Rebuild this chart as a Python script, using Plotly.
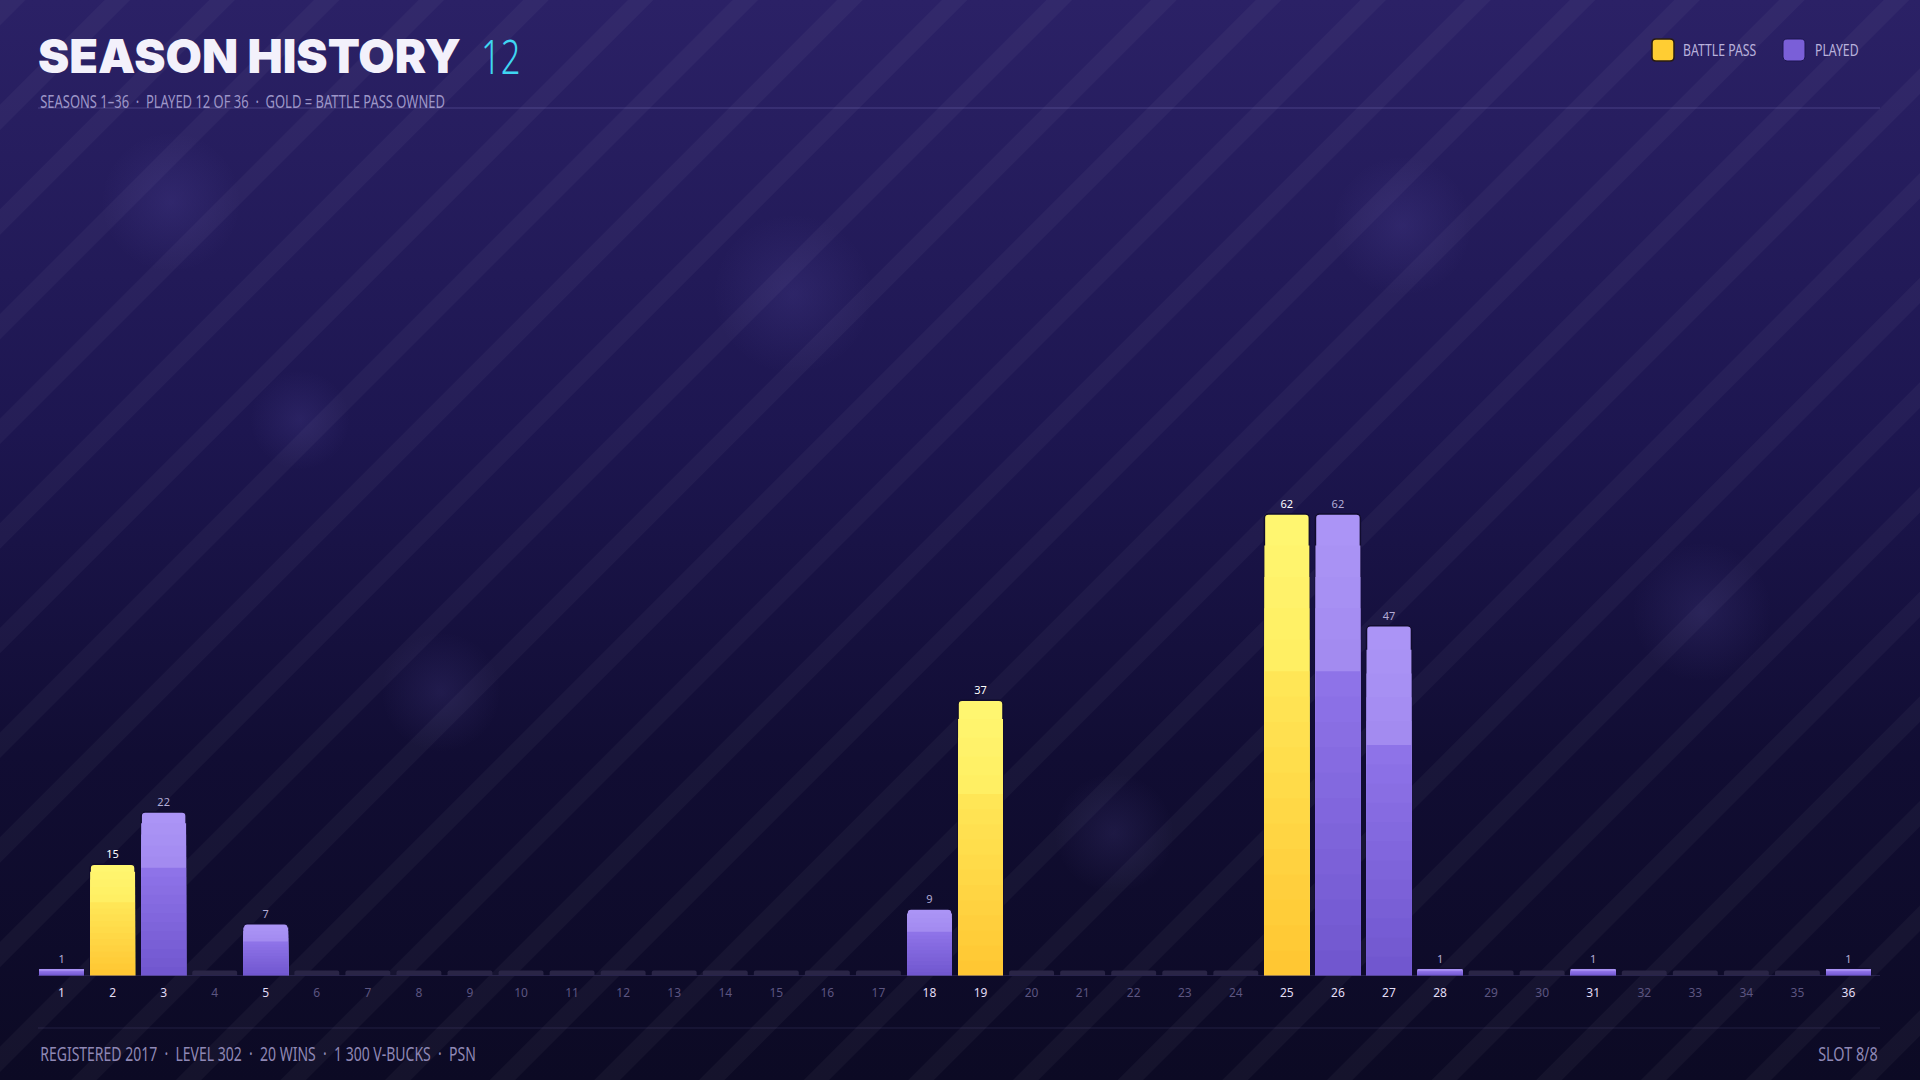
import base64
import plotly.graph_objects as go

# ---------------- data ----------------
SEASONS = list(range(1, 37))
VALUES = [1, 15, 22, 0, 7, 0, 0, 0, 0, 0, 0, 0, 0, 0, 0, 0, 0, 9, 37, 0,
          0, 0, 0, 0, 62, 62, 47, 1, 0, 0, 1, 0, 0, 0, 0, 1]
BATTLE_PASS = [2, 19, 25]
TITLE = "SEASON HISTORY"
TITLE_COUNT = "12"
SUBTITLE = "SEASONS 1–36  ·  PLAYED 12 OF 36  ·  GOLD = BATTLE PASS OWNED"
FOOTER_LEFT = "REGISTERED 2017  ·  LEVEL 302  ·  20 WINS  ·  1 300 V-BUCKS  ·  PSN"
FOOTER_RIGHT = "SLOT 8/8"
LEGEND_LABELS = ["BATTLE PASS", "PLAYED"]

# ---------------- style ----------------
W, H = 1920, 1080
COND = "'Noto Sans', 'DejaVu Sans Condensed', sans-serif"
HEAVY = "'Noto Sans Black', Inter, Lato, sans-serif"


def px(x):
    return x / W


def py(y):
    return 1 - y / H


def mix(c1, c2, t):
    a = [int(c1[i:i + 2], 16) for i in (1, 3, 5)]
    b = [int(c2[i:i + 2], 16) for i in (1, 3, 5)]
    return "#" + "".join(f"{round(x + (y - x) * t):02x}" for x, y in zip(a, b))


def rrect(x0, y0, x1, y1, r):
    """rounded rectangle path in paper coords from pixel box"""
    X = lambda v: f"{px(v):.6f}"
    Y = lambda v: f"{py(v):.6f}"
    return (f"M {X(x0 + r)} {Y(y0)} L {X(x1 - r)} {Y(y0)} Q {X(x1)} {Y(y0)} {X(x1)} {Y(y0 + r)} "
            f"L {X(x1)} {Y(y1 - r)} Q {X(x1)} {Y(y1)} {X(x1 - r)} {Y(y1)} "
            f"L {X(x0 + r)} {Y(y1)} Q {X(x0)} {Y(y1)} {X(x0)} {Y(y1 - r)} "
            f"L {X(x0)} {Y(y0 + r)} Q {X(x0)} {Y(y0)} {X(x0 + r)} {Y(y0)} Z")


played = [v > 0 for v in VALUES]
is_bp = [s in BATTLE_PASS for s in SEASONS]

# layered tones: fraction of bar height from base -> (bp colour, played colour)
LAYERS = []
N_UP = 5
for k in range(N_UP):                   # upper lighter band
    t = k / (N_UP - 1)
    LAYERS.append((1.0 - 0.34 * k / N_UP,
                   mix("#fff670", "#ffef63", t), mix("#ab94f6", "#a38bf0", t)))
N_LOW = 12
for k in range(N_LOW):                  # lower band, smooth gradient
    t = k / (N_LOW - 1)
    LAYERS.append((0.66 * (1 - k / N_LOW),
                   mix("#ffe656", "#ffc733", t), mix("#8e73e8", "#7157cf", t)))

STUB_H = 0.75
stub_vals = [0 if p else STUB_H for p in played]

text_vals = [str(v) if v > 0 else "" for v in VALUES]
text_cols = ["#ffffff" if b else "#b3acd6" for b in is_bp]

ticktext = [
    f"<span style='color:{'#e2ddf5' if p else '#5c5580'}'>{s}</span>"
    for s, p in zip(SEASONS, played)
]

# background (gradient + diagonal stripes + soft bokeh)
bokeh = [(171, 202, 70), (793, 294, 80), (1402, 226, 70), (1702, 612, 70),
         (1114, 833, 60), (441, 692, 60), (300, 420, 50)]
circles = "".join(
    f'<circle cx="{cx}" cy="{cy}" r="{r}" fill="url(#b)"/>' for cx, cy, r in bokeh
)
svg = f'''<svg xmlns="http://www.w3.org/2000/svg" width="{W}" height="{H}">
<defs>
<linearGradient id="g" x1="0" y1="0" x2="0" y2="1">
<stop offset="0" stop-color="#2b2166"/>
<stop offset="0.4" stop-color="#1d1650"/>
<stop offset="0.7" stop-color="#110d33"/>
<stop offset="1" stop-color="#0c0a24"/>
</linearGradient>
<pattern id="s" width="74" height="74" patternUnits="userSpaceOnUse" patternTransform="rotate(45)">
<rect width="18" height="74" fill="#ffffff" fill-opacity="0.035"/>
</pattern>
<radialGradient id="b">
<stop offset="0" stop-color="#9a8cff" stop-opacity="0.10"/>
<stop offset="1" stop-color="#9a8cff" stop-opacity="0"/>
</radialGradient>
</defs>
<rect width="{W}" height="{H}" fill="url(#g)"/>
<rect width="{W}" height="{H}" fill="url(#s)"/>
{circles}
</svg>'''
bg_uri = "data:image/svg+xml;base64," + base64.b64encode(svg.encode()).decode()

fig = go.Figure()

# unplayed stubs
fig.add_trace(go.Bar(
    x=SEASONS, y=stub_vals,
    marker=dict(color="#2a2546", line=dict(width=0), cornerradius=2),
    hoverinfo="skip", showlegend=False,
))
# tone layers
for i, (frac, c_bp, c_pl) in enumerate(LAYERS):
    cols = [c_bp if b else c_pl for b in is_bp]
    kw = {}
    if i == 0:
        kw = dict(text=text_vals, textposition="outside", cliponaxis=False,
                  textfont=dict(family=COND, size=11, color=text_cols))
    fig.add_trace(go.Bar(
        x=SEASONS, y=[v * frac for v in VALUES],
        marker=dict(color=cols,
                    line=dict(color="#110c2e", width=1.5 if i == 0 else 0),
                    cornerradius=4 if i == 0 else 0),
        hoverinfo="skip", showlegend=False, **kw,
    ))

Y_TOP = (976 - 130) / 7.45

fig.update_layout(
    width=W, height=H,
    margin=dict(l=0, r=0, t=0, b=0),
    paper_bgcolor="#0c0a24",
    plot_bgcolor="rgba(0,0,0,0)",
    barmode="overlay",
    bargap=0.12,
    showlegend=False,
    images=[dict(source=bg_uri, xref="paper", yref="paper", x=0, y=1,
                 sizex=1, sizey=1, sizing="stretch", layer="below")],
    xaxis=dict(
        domain=[px(36), px(1874)], range=[0.5, 36.5],
        tickvals=SEASONS, ticktext=ticktext, ticks="",
        tickfont=dict(family=COND, size=12, color="#5c5580"),
        showgrid=False, zeroline=False, showline=False,
        ticklabelstandoff=8,
    ),
    yaxis=dict(
        domain=[py(976), py(130)], range=[0, Y_TOP],
        visible=False, showgrid=False, zeroline=False,
    ),
    font=dict(family=COND),
)

shapes = [
    dict(type="line", xref="paper", yref="paper", x0=px(38), x1=px(1880),
         y0=py(108), y1=py(108), line=dict(color="rgba(150,140,220,0.30)", width=1)),
    dict(type="line", xref="paper", yref="y", x0=px(38), x1=px(1880),
         y0=0, y1=0, line=dict(color="#3b3566", width=1)),
    dict(type="line", xref="paper", yref="paper", x0=px(38), x1=px(1880),
         y0=py(1028), y1=py(1028), line=dict(color="rgba(150,140,220,0.16)", width=1)),
    dict(type="path", xref="paper", yref="paper", path=rrect(1652, 39, 1674, 61, 4),
         fillcolor="#ffcd33", line=dict(color="#2a1c10", width=1.5)),
    dict(type="path", xref="paper", yref="paper", path=rrect(1783, 39, 1805, 61, 4),
         fillcolor="#7a5fd8", line=dict(color="#1d1650", width=1)),
]

annotations = [
    dict(text=TITLE, xref="paper", yref="paper", x=px(36), y=py(56),
         xanchor="left", yanchor="middle", showarrow=False,
         font=dict(family=HEAVY, size=47, color="#f3f1fb", weight=900)),
    dict(text=TITLE_COUNT, xref="paper", yref="paper", x=px(479), y=py(56),
         xanchor="left", yanchor="middle", showarrow=False,
         font=dict(family=COND, size=48, color="#3fd6f2", weight=300)),
    dict(text=SUBTITLE, xref="paper", yref="paper", x=px(38), y=py(101),
         xanchor="left", yanchor="middle", showarrow=False,
         font=dict(family=COND, size=18, color="#9d96c8")),
    dict(text=LEGEND_LABELS[0], xref="paper", yref="paper", x=px(1681), y=py(50),
         xanchor="left", yanchor="middle", showarrow=False,
         font=dict(family=COND, size=17, color="#b9b2dc")),
    dict(text=LEGEND_LABELS[1], xref="paper", yref="paper", x=px(1813), y=py(50),
         xanchor="left", yanchor="middle", showarrow=False,
         font=dict(family=COND, size=17, color="#b9b2dc")),
    dict(text=FOOTER_LEFT, xref="paper", yref="paper", x=px(38), y=py(1053),
         xanchor="left", yanchor="middle", showarrow=False,
         font=dict(family=COND, size=20, color="#8f88b5")),
    dict(text=FOOTER_RIGHT, xref="paper", yref="paper", x=px(1880), y=py(1053),
         xanchor="right", yanchor="middle", showarrow=False,
         font=dict(family=COND, size=20, color="#8f88b5")),
]

fig.update_layout(shapes=shapes, annotations=annotations)

# narrow (condensed) look for the light text annotations
css = (
    ".annotation[data-index='1'] text, .annotation[data-index='2'] text,"
    ".annotation[data-index='3'] text, .annotation[data-index='4'] text"
    "{transform-box:fill-box;transform-origin:0% 50%;transform:scaleX(0.72);}"
    ".annotation[data-index='5'] text"
    "{transform-box:fill-box;transform-origin:0% 50%;transform:scaleX(0.70);}"
    ".annotation[data-index='6'] text"
    "{transform-box:fill-box;transform-origin:100% 50%;transform:scaleX(0.72);}"
)
post = (
    "document.body.style.margin='0';document.body.style.overflow='hidden';"
    "var st=document.createElement('style');st.textContent=\"" + css + "\";"
    "document.head.appendChild(st);"
)

fig.write_html(
    "out.html",
    config=dict(displayModeBar=False),
    post_script=post,
)
